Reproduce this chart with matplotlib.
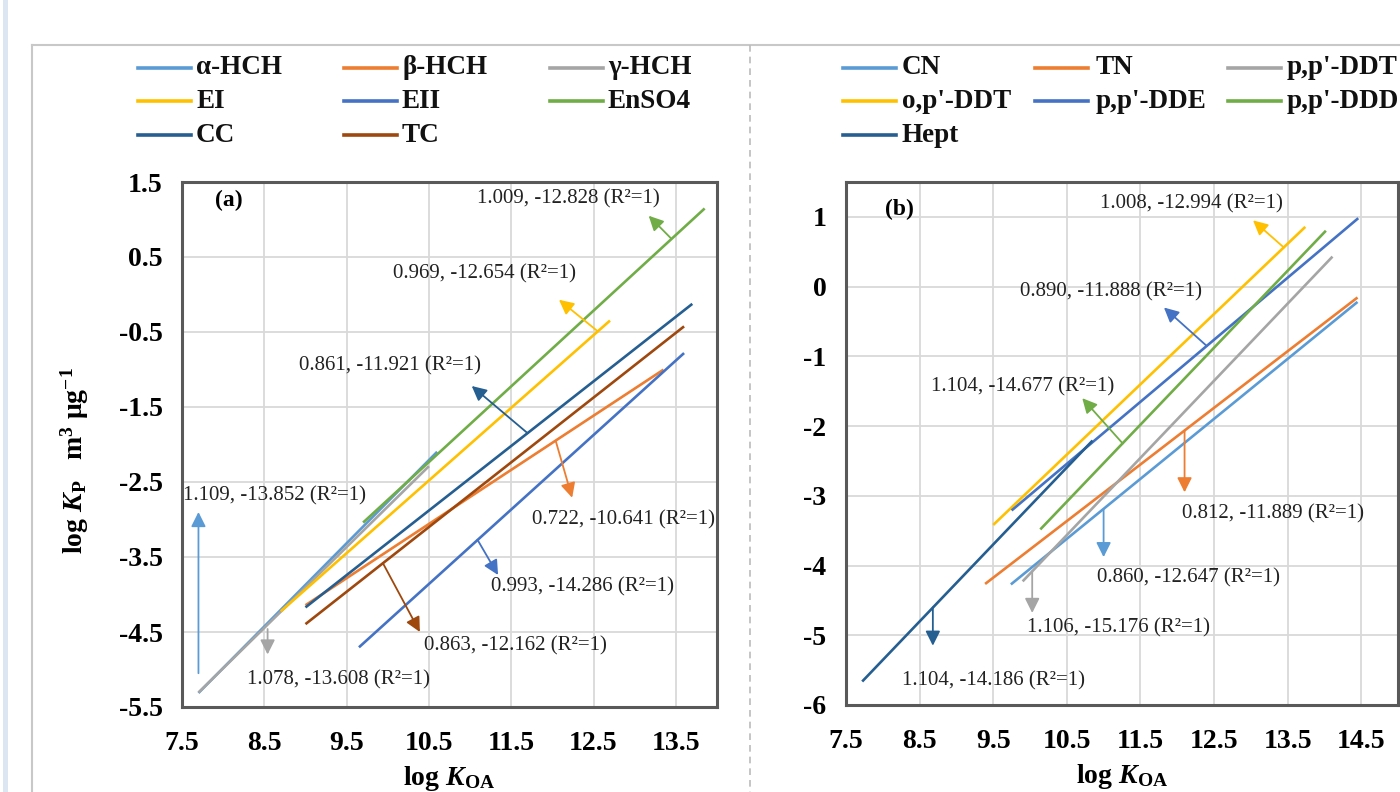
import numpy as np
import matplotlib
matplotlib.use("Agg")
from matplotlib import pyplot as plt
from matplotlib.lines import Line2D
from matplotlib.patches import Rectangle

plt.rcParams["font.family"] = ["Liberation Serif", "DejaVu Serif"]
plt.rcParams["mathtext.fontset"] = "custom"
plt.rcParams["mathtext.rm"] = "Liberation Serif:bold"
plt.rcParams["mathtext.bf"] = "Liberation Serif:bold"
plt.rcParams["mathtext.it"] = "Liberation Serif:italic:bold"
plt.rcParams["mathtext.bfit"] = "Liberation Serif:italic:bold"

# ---- panel (a): regression lines log Kp vs log Koa ----
a_names = ["α-HCH", "β-HCH", "γ-HCH", "EI", "EII", "EnSO4", "CC", "TC"]
a_x0 = [7.70, 9.00, 7.70, 8.70, 9.65, 9.70, 9.00, 9.00]
a_y0 = [-5.313, -4.143, -5.307, -4.224, -4.704, -3.041, -4.172, -4.395]
a_x1 = [10.60, 13.35, 10.50, 12.70, 13.60, 13.85, 13.70, 13.60]
a_y1 = [-2.097, -1.002, -2.289, -0.348, -0.781, 1.147, -0.125, -0.425]

# equation labels: text, text pos, arrow tail (on line), arrow head
a_lab_idx = [0, 2, 7, 4, 1, 5, 3, 6]
a_lab_txt = ["1.109, -13.852 (R²=1)", "1.078, -13.608 (R²=1)", "0.863, -12.162 (R²=1)",
             "0.993, -14.286 (R²=1)", "0.722, -10.641 (R²=1)", "1.009, -12.828 (R²=1)",
             "0.969, -12.654 (R²=1)", "0.861, -11.921 (R²=1)"]
a_lab_x = [8.62, 9.40, 11.55, 12.37, 12.87, 12.20, 11.18, 10.03]
a_lab_y = [-2.68, -5.14, -4.69, -3.90, -3.00, 1.27, 0.28, -0.95]
a_arr_from = [(7.70, -5.05), (8.54, -4.46), (9.94, -3.58), (11.09, -3.27),
              (12.04, -1.95), (13.44, 0.75), (12.55, -0.49), (11.70, -1.85)]
a_arr_to = [(7.70, -2.90), (8.54, -4.80), (10.39, -4.50), (11.34, -3.74),
            (12.24, -2.71), (13.17, 1.05), (12.08, -0.07), (11.02, -1.22)]

# ---- panel (b) ----
b_names = ["CN", "TN", "p,p'-DDT", "o,p'-DDT", "p,p'-DDE", "p,p'-DDD", "Hept"]
b_x0 = [9.74, 9.39, 9.90, 9.50, 9.75, 10.14, 7.72]
b_y0 = [-4.271, -4.264, -4.227, -3.418, -3.210, -3.482, -5.663]
b_x1 = [14.45, 14.45, 14.11, 13.74, 14.46, 14.02, 10.85]
b_y1 = [-0.220, -0.156, 0.430, 0.856, 0.981, 0.801, -2.208]

b_lab_idx = [3, 4, 5, 1, 0, 2, 6]
b_lab_txt = ["1.008, -12.994 (R²=1)", "0.890, -11.888 (R²=1)", "1.104, -14.677 (R²=1)",
             "0.812, -11.889 (R²=1)", "0.860, -12.647 (R²=1)", "1.106, -15.176 (R²=1)",
             "1.104, -14.186 (R²=1)"]
b_lab_x = [12.20, 11.10, 9.90, 13.30, 12.15, 11.20, 9.50]
b_lab_y = [1.19, -0.07, -1.44, -3.26, -4.17, -4.90, -5.65]
b_arr_from = [(13.45, 0.56), (12.40, -0.85), (11.26, -2.25), (12.10, -2.06),
              (11.00, -3.19), (10.03, -4.08), (8.68, -4.60)]
b_arr_to = [(13.03, 0.95), (11.82, -0.30), (10.71, -1.60), (12.10, -2.95),
            (11.00, -3.88), (10.03, -4.68), (8.68, -5.15)]

a_xticks = [7.5, 8.5, 9.5, 10.5, 11.5, 12.5, 13.5]
a_yticks = [1.5, 0.5, -0.5, -1.5, -2.5, -3.5, -4.5, -5.5]
b_xticks = [7.5, 8.5, 9.5, 10.5, 11.5, 12.5, 13.5, 14.5]
b_yticks = [1, 0, -1, -2, -3, -4, -5, -6]

a_colors = ["#5B9BD5", "#ED7D31", "#A5A5A5", "#FFC000", "#4472C4", "#70AD47", "#255E91", "#9E480E"]
b_colors = ["#5B9BD5", "#ED7D31", "#A5A5A5", "#FFC000", "#4472C4", "#70AD47", "#255E91"]

W, H = 1400, 792
fig = plt.figure(figsize=(14, 7.92), dpi=100)


def fx(px):
    return px / W


def fy(py):
    return 1 - py / H


# page frame
fig.add_artist(Line2D([fx(32), fx(1400)], [fy(45), fy(45)], color="#C8C8C8", lw=1.5))
fig.add_artist(Line2D([fx(32), fx(32)], [fy(45), fy(792)], color="#C8C8C8", lw=1.5))
fig.add_artist(Rectangle((fx(3), 0), fx(5), 1, color="#DCE6F2", lw=0))
fig.add_artist(Line2D([fx(750), fx(750)], [fy(45), fy(792)], color="#BBBBBB", lw=1.2, ls=(0, (4, 3))))


def style_axes(ax, xlim, ylim, xticks, yticks, fmt):
    ax.set_xlim(*xlim)
    ax.set_ylim(*ylim)
    ax.set_xticks(xticks)
    ax.set_yticks(yticks)
    ax.set_xticklabels([fmt % v for v in xticks])
    ax.set_yticklabels([fmt % v for v in yticks])
    ax.grid(True, color="#D9D9D9", lw=1.3)
    ax.set_axisbelow(True)
    for s in ax.spines.values():
        s.set_color("#595959")
        s.set_linewidth(2.2)
    ax.tick_params(axis="y", length=0, pad=14, labelsize=20)
    ax.tick_params(axis="x", length=0, pad=17, labelsize=20)
    for t in ax.get_xticklabels() + ax.get_yticklabels():
        t.set_fontweight("bold")


def draw_panel(ax, names, colors, x0, y0, x1, y1, lab_idx, lab_txt, lab_x, lab_y, arr_from, arr_to):
    for i, n in enumerate(names):
        ax.plot([x0[i], x1[i]], [y0[i], y1[i]], color=colors[i], lw=1.9, solid_capstyle="butt", zorder=3)
    for k, i in enumerate(lab_idx):
        ax.annotate("", xy=arr_to[k], xytext=arr_from[k],
                    arrowprops=dict(arrowstyle="-|>", color=colors[i], lw=1.3,
                                    mutation_scale=22, shrinkA=0, shrinkB=0), zorder=4)
        ax.text(lab_x[k], lab_y[k], lab_txt[k], ha="center", va="center",
                fontsize=15, color="#222222", zorder=5)


def draw_legend(names, colors, col_px, row_px, text_px):
    for i, n in enumerate(names):
        c, r = i % 3, i // 3
        fig.add_artist(Line2D([fx(col_px[c]), fx(col_px[c] + 53)], [fy(row_px[r]), fy(row_px[r])],
                              color=colors[i], lw=2.6))
        fig.text(fx(text_px[c]), fy(row_px[r]), n, ha="left", va="center",
                 fontsize=19.5, fontweight="bold", color="#111111")


# left panel
ax1 = fig.add_axes([fx(182), fy(707), fx(717 - 182), (707 - 182) / H])
style_axes(ax1, (7.5, 14.0), (-5.5, 1.5), a_xticks, a_yticks, "%g")
draw_panel(ax1, a_names, a_colors, a_x0, a_y0, a_x1, a_y1, a_lab_idx, a_lab_txt,
           a_lab_x, a_lab_y, a_arr_from, a_arr_to)
ax1.text(8.07, 1.25, "(a)", fontsize=17, fontweight="bold", ha="center", va="center")
ax1.set_xlabel(r"log $\mathbfit{K}_{\mathbf{OA}}$", fontsize=20, fontweight="bold", labelpad=6)
ax1.set_ylabel(r"log $\mathbfit{K}_{\mathbf{P}}$   m$^{\mathbf{3}}$ μg$^{\mathbf{-1}}$",
               fontsize=20, fontweight="bold")
ax1.yaxis.set_label_coords(-0.17, 0.47)

# right panel
ax2 = fig.add_axes([fx(846), fy(705), fx(1398 - 846), (705 - 182) / H])
style_axes(ax2, (7.5, 15.0), (-6.0, 1.5), b_xticks, b_yticks, "%g")
draw_panel(ax2, b_names, b_colors, b_x0, b_y0, b_x1, b_y1, b_lab_idx, b_lab_txt,
           b_lab_x, b_lab_y, b_arr_from, b_arr_to)
ax2.text(8.22, 1.10, "(b)", fontsize=17, fontweight="bold", ha="center", va="center")
ax2.set_xlabel(r"log $\mathbfit{K}_{\mathbf{OA}}$", fontsize=20, fontweight="bold", labelpad=6)

draw_legend(a_names, a_colors, [138, 344, 550], [68, 101, 135], [196, 402, 608])
draw_legend(b_names, b_colors, [843, 1035, 1228], [68, 101, 135], [902, 1096, 1287])

fig.savefig("out.png", dpi=100)
